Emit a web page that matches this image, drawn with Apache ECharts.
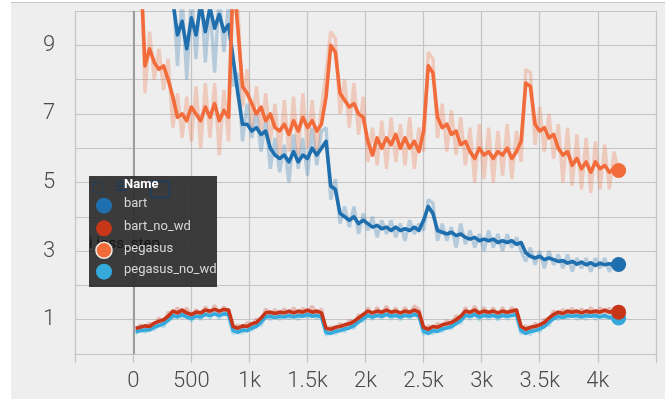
<!DOCTYPE html>
<html>
<head>
<meta charset="utf-8">
<script src="https://cdn.jsdelivr.net/npm/echarts@6/dist/echarts.min.js"></script>
<style>
html,body{margin:0;padding:0;background:#fff;}
#bg{position:absolute;left:11px;top:2px;width:654px;height:397px;background:#eeeeee;border-top:1px solid #c8c8c8;}
#chart{position:absolute;left:0;top:0;width:665px;height:399px;}
</style>
</head>
<body>
<div id="bg"></div>
<div id="chart"></div>
<script>
const steps = [20,60,100,140,180,220,260,300,340,380,
420,460,500,540,580,620,660,700,740,780,
820,860,900,940,980,1020,1060,1100,1140,1180,
1220,1260,1300,1340,1380,1420,1460,1500,1540,1580,
1620,1660,1700,1740,1780,1820,1860,1900,1940,1980,
2020,2060,2100,2140,2180,2220,2260,2300,2340,2380,
2420,2460,2500,2540,2580,2620,2660,2700,2740,2780,
2820,2860,2900,2940,2980,3020,3060,3100,3140,3180,
3220,3260,3300,3340,3380,3420,3460,3500,3540,3580,
3620,3660,3700,3740,3780,3820,3860,3900,3940,3980,
4020,4060,4100,4140,4180];

const seriesNames = ['bart','bart_no_wd','pegasus','pegasus_no_wd'];
const xTickLabels = {0:'0',500:'500',1000:'1k',1500:'1.5k',2000:'2k',2500:'2.5k',3000:'3k',3500:'3.5k',4000:'4k'};
const yTickLabels = ['1','3','5','7','9'];

const bartSmooth = [12.0,12.5,12.0,11.8,11.5,11.2,11.0,10.6,10.3,9.3,
9.7,8.9,9.8,9.3,10.2,9.4,10.1,9.5,9.9,9.4,
9.6,8.6,7.6,6.7,6.7,6.5,6.6,6.4,6.5,6.0,
5.8,5.7,5.8,5.6,5.9,5.6,5.8,5.7,6.0,5.8,
6.0,6.2,4.9,4.8,4.1,4.0,3.9,4.0,3.8,3.9,
3.8,3.7,3.75,3.65,3.7,3.6,3.7,3.6,3.65,3.6,
3.7,3.6,3.9,4.3,4.1,3.6,3.55,3.5,3.55,3.45,
3.5,3.4,3.35,3.4,3.3,3.35,3.3,3.35,3.25,3.3,
3.25,3.3,3.2,3.25,2.95,2.85,2.8,2.85,2.75,2.8,
2.75,2.7,2.72,2.65,2.7,2.62,2.68,2.6,2.66,2.58,
2.65,2.6,2.63,2.58,2.61];

const bartRaw = [12.5,12,12.8,11.4,12,10.8,11.6,10.2,10.8,8.4,
10.4,8.0,10.5,8.6,10.8,8.5,10.2,8.2,10.5,8.8,
10.2,7.8,8.2,6.2,7.3,6.3,7.1,5.9,6.8,5.4,
6.3,5.3,6.1,5.0,6.4,5.4,6.3,5.2,6.6,5.5,
6.5,6.6,4.5,5.1,3.8,4.3,3.7,4.3,3.5,4.1,
3.6,4.0,3.4,3.9,3.5,3.9,3.4,3.8,3.3,3.9,
3.5,3.8,3.6,4.5,4.4,3.3,3.8,3.3,3.7,3.1,
3.8,3.2,3.6,3.1,3.5,3.0,3.6,3.1,3.5,3.0,
3.5,3.1,3.4,3.0,2.7,3.1,2.6,3.0,2.5,3.0,
2.6,2.9,2.5,2.9,2.4,2.8,2.5,2.8,2.4,2.8,
2.5,2.8,2.4,2.7,2.6];

const pegasusSmooth = [null,11.5,8.4,8.9,8.5,8.3,8.4,8.0,7.5,6.9,
7.0,6.8,7.2,7.0,6.8,7.2,6.9,7.3,6.8,7.1,
6.9,11,9.5,7.8,7.6,7.3,7.0,7.2,6.8,7.0,
6.6,6.5,6.7,6.4,6.8,6.5,6.9,6.6,6.8,6.5,
6.7,7.5,9.0,8.8,7.6,7.4,7.2,7.3,7.0,6.9,
6.2,5.8,6.3,6.0,6.3,6.1,6.4,6.0,6.3,6.0,
6.2,5.9,6.5,8.4,8.2,6.9,6.6,6.7,6.4,6.5,
6.1,6.2,5.9,5.7,6.0,5.8,5.9,5.7,5.9,5.8,
6.0,5.7,5.9,6.2,7.9,7.8,6.7,6.5,6.6,6.3,
6.4,6.0,5.8,5.9,5.5,5.7,5.4,5.6,5.3,5.6,
5.4,5.5,5.3,5.4,5.35];

const pegasusRaw = [null,12,7.6,9.4,8.0,8.9,7.7,8.6,6.6,7.6,
6.3,7.5,6.2,7.8,6.0,7.9,6.3,7.9,5.8,7.7,
6.2,11.5,10.2,7.2,8.3,6.6,7.8,6.5,7.6,6.2,
7.3,5.8,7.4,5.9,7.5,5.8,7.6,6.0,7.4,5.9,
7.2,8.2,9.4,9.2,7.0,8.0,6.6,7.9,6.4,7.5,
5.6,6.6,5.5,6.8,5.4,6.9,5.6,6.7,5.5,6.9,
5.4,6.6,5.9,8.8,8.6,6.3,7.3,5.9,7.1,5.8,
6.9,5.5,6.6,5.0,6.7,5.1,6.6,5.0,6.5,5.2,
6.7,5.1,6.5,5.6,8.3,8.2,6.1,7.2,5.9,7.0,
5.7,6.7,5.0,6.6,4.9,6.4,4.8,6.3,4.7,6.2,
4.8,6.1,4.8,5.9,5.3];

const bartNoWdSmooth = [0.75,0.78,0.82,0.8,0.9,0.95,1.0,1.1,1.25,1.2,
1.28,1.2,1.15,1.22,1.2,1.28,1.25,1.3,1.25,1.3,
1.28,0.8,0.75,0.82,0.8,0.88,0.92,1.05,1.2,1.22,
1.18,1.22,1.2,1.25,1.2,1.25,1.22,1.28,1.22,1.25,
1.2,0.75,0.72,0.78,0.8,0.85,0.88,0.95,1.05,1.15,
1.25,1.2,1.25,1.22,1.28,1.22,1.25,1.2,1.25,1.22,
1.28,1.22,0.78,0.72,0.8,0.78,0.85,0.88,0.92,1.0,
1.1,1.25,1.22,1.28,1.2,1.25,1.22,1.25,1.2,1.25,
1.22,1.25,1.28,0.8,0.72,0.78,0.8,0.85,0.92,1.05,
1.15,1.22,1.18,1.25,1.22,1.25,1.2,1.25,1.22,1.25,
1.22,1.28,1.22,1.25,1.22];

const bartNoWdRaw = [0.68,0.85,0.74,0.9,0.82,1.05,0.9,1.22,1.15,1.35,
1.18,1.34,1.08,1.3,1.12,1.38,1.16,1.42,1.15,1.38,
1.2,0.7,0.85,0.72,0.92,0.8,1.02,0.95,1.32,1.12,
1.3,1.12,1.32,1.15,1.35,1.12,1.34,1.18,1.4,1.15,
1.32,0.65,0.8,0.7,0.9,0.76,0.98,0.86,1.15,1.05,
1.35,1.12,1.36,1.14,1.4,1.12,1.35,1.1,1.36,1.14,
1.4,1.3,0.68,0.82,0.7,0.9,0.76,0.98,0.85,1.12,
1.0,1.36,1.12,1.4,1.1,1.36,1.12,1.35,1.1,1.36,
1.12,1.36,1.2,0.7,0.82,0.68,0.9,0.76,1.02,0.95,
1.26,1.12,1.3,1.15,1.34,1.12,1.32,1.12,1.36,1.14,
1.35,1.18,1.34,1.15,1.22];

const pegasusNoWdSmooth = [0.65,0.68,0.7,0.7,0.78,0.83,0.88,0.98,1.12,1.08,
1.15,1.08,1.03,1.1,1.08,1.15,1.12,1.17,1.12,1.17,
1.15,0.68,0.63,0.7,0.68,0.76,0.8,0.93,1.08,1.1,
1.06,1.1,1.08,1.12,1.08,1.12,1.1,1.15,1.1,1.12,
1.08,0.63,0.6,0.66,0.68,0.73,0.76,0.83,0.93,1.03,
1.12,1.08,1.12,1.1,1.15,1.1,1.12,1.08,1.12,1.1,
1.15,1.1,0.66,0.6,0.68,0.66,0.73,0.76,0.8,0.88,
0.98,1.12,1.1,1.15,1.08,1.12,1.1,1.12,1.08,1.12,
1.1,1.12,1.15,0.68,0.6,0.66,0.68,0.73,0.8,0.93,
1.03,1.1,1.06,1.12,1.1,1.12,1.08,1.12,1.1,1.12,
1.08,1.12,1.06,1.08,1.05];

const pegasusNoWdRaw = [0.58,0.74,0.62,0.8,0.7,0.92,0.78,1.1,1.02,1.22,
1.05,1.2,0.95,1.18,1.0,1.25,1.04,1.28,1.02,1.26,
1.08,0.58,0.72,0.6,0.8,0.68,0.9,0.82,1.2,1.0,
1.18,1.0,1.2,1.02,1.22,1.0,1.2,1.05,1.26,1.02,
1.2,0.54,0.68,0.58,0.78,0.64,0.86,0.74,1.02,0.94,
1.22,1.0,1.24,1.02,1.26,1.0,1.22,0.98,1.24,1.02,
1.26,1.18,0.56,0.7,0.58,0.78,0.64,0.86,0.72,1.0,
0.88,1.24,1.0,1.26,0.98,1.22,1.0,1.22,0.98,1.24,
1.0,1.24,1.08,0.58,0.7,0.56,0.78,0.64,0.9,0.82,
1.14,1.0,1.18,1.02,1.22,1.0,1.2,1.0,1.22,1.0,
1.2,1.04,1.2,1.0,1.05];

const colors = {
  bart: '#1f6fae',
  bart_no_wd: '#c8361a',
  pegasus: '#f26b3a',
  pegasus_no_wd: '#35a9dc'
};

function pairs(vals){ return steps.map((s,i)=>[s, vals[i]]); }

function rawSeries(name, vals, extra){
  return Object.assign({
    name: name + '_raw', type:'line', data: pairs(vals), showSymbol:false, symbol:'none',
    lineStyle:{color: colors[name], width:3.4, opacity:0.27}, itemStyle:{color:colors[name]},
    silent:true, clip:true, z:2, animation:false
  }, extra||{});
}
function smoothSeries(name, vals){
  return {
    name: name, type:'line', data: pairs(vals), showSymbol:false, symbol:'none',
    lineStyle:{color: colors[name], width:3.6, join:'round'}, itemStyle:{color:colors[name]},
    silent:true, clip:true, z:3, animation:false
  };
}
function endDot(name, vals){
  const i = vals.length-1;
  return {
    type:'scatter', data:[[steps[i], vals[i]]], symbol:'circle', symbolSize:15,
    itemStyle:{color:colors[name], opacity:1}, silent:true, z:4, animation:false
  };
}

const chart = echarts.init(document.getElementById('chart'), null, {renderer:'canvas'});
const gridColor = '#c4c4c4';
const labelFont = {fontFamily:'Roboto', fontWeight:300, fontSize:22, color:'#4a4a4a'};

const legendX = 89, legendY = 176;
const rowYs = [205.7, 228.3, 250.3, 271.7];
const legendGraphics = [
  {type:'rect', left:legendX, top:legendY, shape:{width:128, height:111}, style:{fill:'rgba(48,48,48,0.95)'}, z:100},
  {type:'rect', left:91, top:180, shape:{width:10, height:10}, style:{fill:'none', stroke:'#1e3c60', lineWidth:1.6, lineDash:[3,3]}, z:101},
  {type:'line', shape:{x1:116,y1:182,x2:127,y2:182}, style:{stroke:'#1e3c60', lineWidth:1.5}, z:101},
  {type:'line', shape:{x1:116,y1:186,x2:127,y2:186}, style:{stroke:'#1e3c60', lineWidth:1.5}, z:101},
  {type:'line', shape:{x1:116,y1:190,x2:127,y2:190}, style:{stroke:'#1e3c60', lineWidth:1.5}, z:101},
  {type:'rect', left:148, top:179, shape:{width:19, height:16, r:2}, style:{fill:'none', stroke:'#1e3c60', lineWidth:1.5}, z:101},
  {type:'text', left:89, top:237, style:{text:'l loss_step', fill:'#151515', font:'15px Roboto'}, z:101},
  {type:'text', left:124, top:178, style:{text:'Name', fill:'#ffffff', font:'bold 13px Roboto'}, z:103}
];
rowYs.forEach((y,i)=>{
  if(i>0){
    legendGraphics.push({type:'line', shape:{x1:legendX, y1:y-11.5, x2:legendX+128, y2:y-11.5}, style:{stroke:'#3c3c3c', lineWidth:1}, z:101});
  }
  const nm = seriesNames[i];
  legendGraphics.push({type:'circle', shape:{cx:104, cy:y, r:8}, style:{fill:colors[nm], stroke: nm==='pegasus' ? '#f4e8e2' : null, lineWidth: nm==='pegasus' ? 1.6 : 0}, z:102});
  legendGraphics.push({type:'text', left:124, top:y-8, style:{text:nm, fill:'#d8d8d8', font:'13px Roboto'}, z:103});
});

const option = {
  backgroundColor:'transparent',
  animation:false,
  grid:{left:75.3, right:9.2, top:11, bottom:45, containLabel:false},
  xAxis:{
    type:'value', min:-500, max:4500, interval:500,
    axisLine:{show:true, onZero:false, lineStyle:{color:gridColor, width:1.2}},
    axisTick:{show:true, length:9, lineStyle:{color:gridColor, width:1.2}},
    splitLine:{show:true, lineStyle:{color:gridColor, width:1.2}},
    axisLabel:Object.assign({margin:16, formatter:(v)=> xTickLabels[v] !== undefined ? xTickLabels[v] : ''}, labelFont)
  },
  yAxis:{
    type:'value', min:0, max:10, interval:1,
    axisLine:{show:true, lineStyle:{color:gridColor, width:1.2}},
    axisTick:{show:true, length:10, lineStyle:{color:gridColor, width:1.2}},
    splitLine:{show:true, lineStyle:{color:gridColor, width:1.2}},
    axisLabel:Object.assign({margin:20, formatter:(v)=> yTickLabels.indexOf(String(v))>=0 ? String(v) : ''}, labelFont)
  },
  series:[
    rawSeries('pegasus_no_wd', pegasusNoWdRaw, {markLine:{silent:true, symbol:['none','none'], label:{show:false}, animation:false,
      lineStyle:{color:'#9c9c9c', width:2, type:'solid', opacity:1}, data:[{xAxis:0}]}}),
    rawSeries('bart_no_wd', bartNoWdRaw),
    rawSeries('bart', bartRaw),
    rawSeries('pegasus', pegasusRaw),
    smoothSeries('bart', bartSmooth),
    smoothSeries('pegasus', pegasusSmooth),
    smoothSeries('pegasus_no_wd', pegasusNoWdSmooth),
    smoothSeries('bart_no_wd', bartNoWdSmooth),
    endDot('bart', bartSmooth),
    endDot('pegasus', pegasusSmooth),
    endDot('pegasus_no_wd', pegasusNoWdSmooth),
    endDot('bart_no_wd', bartNoWdSmooth)
  ],
  graphic: legendGraphics
};
chart.setOption(option);
</script>
</body>
</html>
